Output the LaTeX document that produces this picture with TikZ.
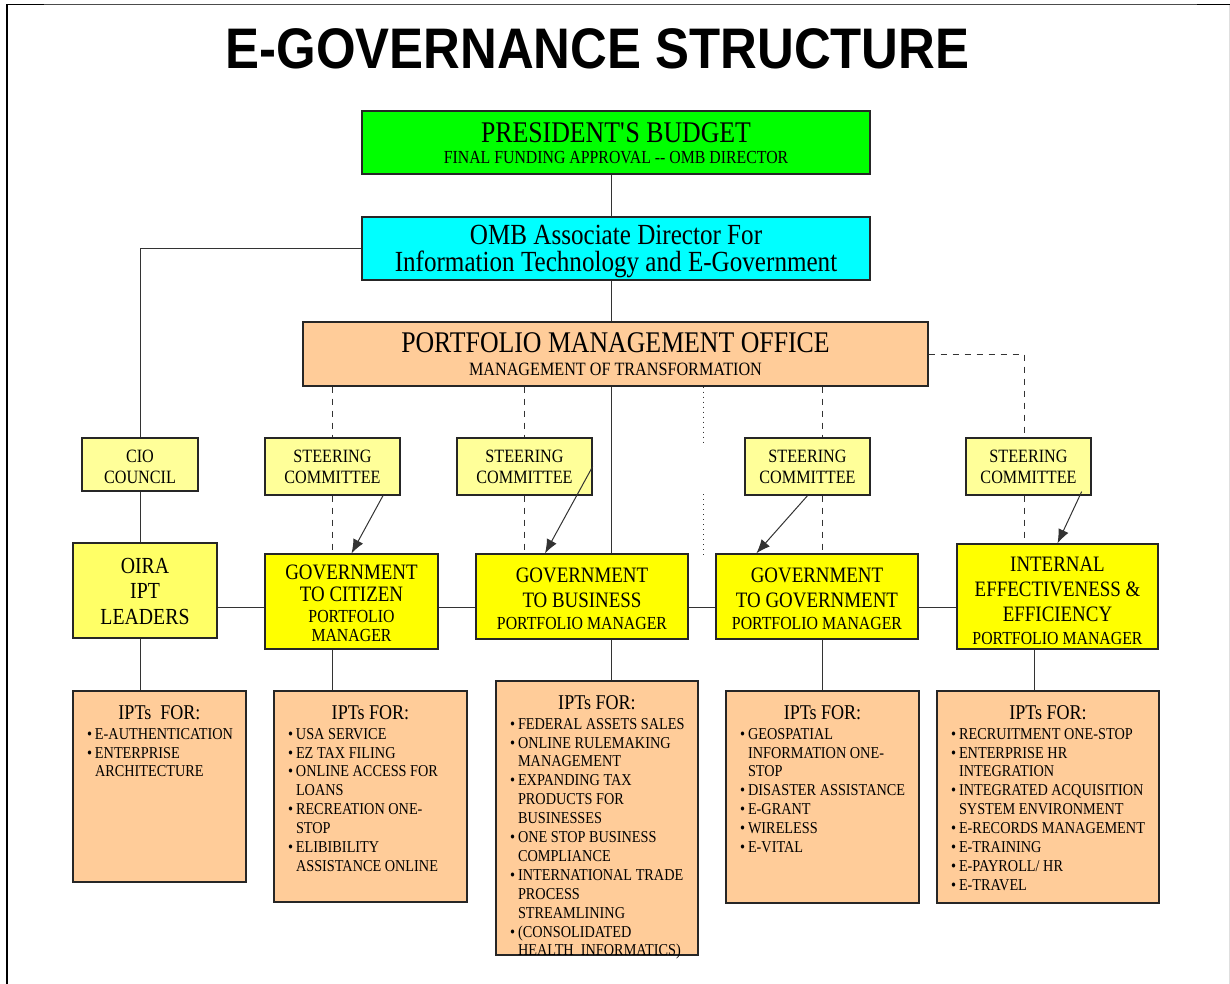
\documentclass[tikz,border=0pt]{standalone}
\usepackage{fontspec}
\setmainfont{Liberation Serif}[FakeStretch=0.86]
\newfontfamily\titlefont{Liberation Sans}[FakeStretch=0.89]
\usetikzlibrary{calc,arrows.meta}

\definecolor{budgetgreen}{HTML}{00FF00}
\definecolor{ombcyan}{HTML}{00FFFF}
\definecolor{peach}{HTML}{FFCC99}
\definecolor{paleyellow}{HTML}{FFFF99}
\definecolor{oirayellow}{HTML}{FFFF66}
\definecolor{pmyellow}{HTML}{FFFF00}

\newcommand{\fs}[2]{\fontsize{#1}{#2}\selectfont}
\newcommand{\itm}[1]{\par\hangindent=4pt\hangafter=1\noindent\makebox[4pt][l]{\textbullet}#1}
% width, height, header, items
\newcommand{\ipts}[4]{\parbox[c][#2][t]{#1}{{\centering\fs{10.5}{12}\rule{0pt}{14pt}#3\par}\vspace{0.6pt}\raggedright\leftskip=7pt\fs{8.3}{9.45}#4}}

\tikzset{
  box/.style={draw=black!85, line width=0.65pt, inner sep=0pt, align=center},
  tb/.style={text height=#1pt, text depth=0pt},
  steerbox/.style={box, fill=paleyellow, minimum height=28.5pt, font=\fs{9.4}{10.6}, tb=16.8},
  pmbox/.style={box, fill=pmyellow},
  iptbox/.style={box, fill=peach},
  link/.style={draw=black!80, line width=0.5pt},
  sclink/.style={link, dashed},
  dots/.style={link, dotted},
  steer/.style={link, -{Latex[length=7pt,width=5.5pt]}}
}

\begin{document}
\begin{tikzpicture}[x=0.5pt, y=-0.5pt]
\useasboundingbox (0,0) rectangle (1230,984);

% page frame
\draw[gray!25, line width=0.4pt] (1229,4.5) -- (1229,984);
\draw[black!70, line width=0.35pt] (7,4.5) -- (1230,4.5);
\draw[line width=0.75pt] (7,4.5) -- (44,4.5);
\draw[line width=0.75pt] (1197,4.5) -- (1230,4.5);
\draw[line width=0.85pt] (7,4.5) -- (7,984);

\node[anchor=base, inner sep=0pt, font=\titlefont\bfseries\fs{28.6}{30}] (title) at (597.5,69) {E-GOVERNANCE STRUCTURE};

% top of the chart
\node[box, fill=budgetgreen, minimum width=254pt, minimum height=31.5pt, font=\fs{15}{15}, tb=21.5] (pb) at (616,142.5)
  {PRESIDENT\textquotesingle S BUDGET\\[-4.5pt] \fs{9.2}{10.5}FINAL FUNDING APPROVAL -{}- OMB DIRECTOR};
\node[box, fill=ombcyan, minimum width=254pt, minimum height=31.5pt, font=\fs{14.6}{13.4}, tb=22.5] (omb) at (616,248.5)
  {OMB Associate Director For\\Information Technology and E-Government};
\node[box, fill=peach, minimum width=312.5pt, minimum height=32pt, font=\fs{15}{15}, tb=21] (pmo) at (615.5,354)
  {PORTFOLIO MANAGEMENT OFFICE\\[-3.5pt] \fs{9.4}{11.5}MANAGEMENT OF TRANSFORMATION};

% committees
\node[steerbox, minimum width=58pt, minimum height=26.5pt, tb=18.8] (cio) at (140,464.5) {CIO\\COUNCIL};
\node[steerbox, minimum width=67.5pt] (sc1) at (332.5,466.5) {STEERING\\COMMITTEE};
\node[steerbox, minimum width=67.5pt] (sc2) at (524.5,466.5) {STEERING\\COMMITTEE};
\node[steerbox, minimum width=62.5pt] (sc3) at (807.5,466.5) {STEERING\\COMMITTEE};
\node[steerbox, minimum width=62.5pt] (sc4) at (1028.5,466.5) {STEERING\\COMMITTEE};

% portfolio managers
\node[box, fill=oirayellow, minimum width=72pt, minimum height=47.5pt, font=\fs{11.5}{12.7}, tb=33.8] (oira) at (145,590.5) {OIRA\\IPT\\LEADERS};
\node[pmbox, minimum width=86.5pt, minimum height=47.5pt, font=\fs{11}{11.2}, tb=40.2] (g2c) at (351.5,601.5)
  {GOVERNMENT\\TO CITIZEN\\[-0.9pt] \fs{9.2}{10.3}PORTFOLIO\\[-1.5pt] \fs{9.2}{9.7}MANAGER};
\node[pmbox, minimum width=106pt, minimum height=42.5pt, font=\fs{11}{12.5}, tb=32.5] (g2b) at (582,596.5)
  {GOVERNMENT\\TO BUSINESS\\[-1.5pt] \fs{9.2}{11}PORTFOLIO MANAGER};
\node[pmbox, minimum width=101pt, minimum height=42.5pt, font=\fs{11}{12.5}, tb=32.5] (g2g) at (817,596.5)
  {GOVERNMENT\\TO GOVERNMENT\\[-1.5pt] \fs{9.2}{11}PORTFOLIO MANAGER};
\node[pmbox, minimum width=100.5pt, minimum height=52.5pt, font=\fs{11}{12.5}, tb=47.5] (iee) at (1057.5,596.5)
  {INTERNAL\\EFFECTIVENESS \&\\EFFICIENCY\\[-1.3pt] \fs{9.2}{11.2}PORTFOLIO MANAGER};

% IPT lists
\node[iptbox] (ipt1) at (159.5,786.5) {\ipts{86.5pt}{95.5pt}{IPTs\ \ FOR:}{%
  \itm{E-AUTHENTICATION}\itm{ENTERPRISE\newline ARCHITECTURE}}};
\node[iptbox] (ipt2) at (370.5,796.5) {\ipts{96.5pt}{105.5pt}{IPTs FOR:}{%
  \itm{USA SERVICE}\itm{EZ TAX FILING}\itm{ONLINE ACCESS FOR\newline LOANS}%
  \itm{RECREATION ONE-\newline STOP}\itm{ELIBIBILITY\newline ASSISTANCE ONLINE}}};
\node[iptbox] (ipt3) at (597,818) {\ipts{101pt}{137pt}{IPTs FOR:}{%
  \itm{FEDERAL ASSETS SALES}\itm{ONLINE RULEMAKING\newline MANAGEMENT}%
  \itm{EXPANDING TAX\newline PRODUCTS FOR\newline BUSINESSES}\itm{ONE STOP BUSINESS\newline COMPLIANCE}%
  \itm{INTERNATIONAL TRADE\newline PROCESS\newline STREAMLINING}\itm{(CONSOLIDATED\newline HEALTH\ \ INFORMATICS)}}};
\node[iptbox] (ipt4) at (822.5,797) {\ipts{96.5pt}{106pt}{IPTs FOR:}{%
  \itm{GEOSPATIAL\newline INFORMATION ONE-\newline STOP}\itm{DISASTER ASSISTANCE}%
  \itm{E-GRANT}\itm{WIRELESS}\itm{E-VITAL}}};
\node[iptbox] (ipt5) at (1048,797) {\ipts{111pt}{106pt}{IPTs FOR:}{%
  \itm{RECRUITMENT ONE-STOP}\itm{ENTERPRISE HR\newline INTEGRATION}%
  \itm{INTEGRATED ACQUISITION\newline SYSTEM ENVIRONMENT}\itm{E-RECORDS MANAGEMENT}%
  \itm{E-TRAINING}\itm{E-PAYROLL/ HR}\itm{E-TRAVEL}}};

% solid links
\coordinate (spine) at (611,0);
\coordinate (row) at (0,607);
\coordinate (c5) at (1034,0);
\draw[link] (pb.south -| spine) -- (omb.north -| spine);
\draw[link] (omb.south -| spine) -- (pmo.north -| spine);
\draw[link] (pmo.south -| spine) -- (g2b.north -| spine);
\draw[link] (g2b.south -| spine) -- (ipt3.north -| spine);
\draw[link] (omb.west) -| (cio.north);
\draw[link] (cio.south) -- (cio.south |- oira.north);
\draw[link] (cio.south |- oira.south) -- (cio.south |- ipt1.north);
\draw[link] (oira.east |- row) -- (g2c.west |- row);
\draw[link] (g2c.east |- row) -- (g2b.west |- row);
\draw[link] (g2b.east |- row) -- (g2g.west |- row);
\draw[link] (g2g.east |- row) -- (iee.west |- row);
\draw[link] (sc1.south |- g2c.south) -- (sc1.south |- ipt2.north);
\draw[link] (ipt4.north |- g2g.south) -- (ipt4.north);
\draw[link] (c5 |- iee.south) -- (c5 |- ipt5.north);

% dashed links through the committees
\coordinate (d3) at (822.5,0);
\coordinate (d4) at (1024,0);
\draw[sclink] (sc1.north |- pmo.south) -- (sc1.north);
\draw[sclink] (sc1.south) -- (sc1.south |- g2c.north);
\draw[sclink] (sc2.north |- pmo.south) -- (sc2.north);
\draw[sclink] (sc2.south) -- (sc2.south |- g2b.north);
\draw[sclink] (d3 |- pmo.south) -- (d3 |- sc3.north);
\draw[sclink] (d3 |- sc3.south) -- (d3 |- g2g.north);
\draw[sclink] (pmo.east) -| (d4 |- sc4.north);
\draw[sclink] (d4 |- sc4.south) -- (d4 |- iee.north);

% dotted line
\coordinate (e1) at (703,445);
\coordinate (e2) at (703,494);
\coordinate (e3) at (703,555);
\draw[dots] (e1 |- pmo.south) -- (e1);
\draw[dots] (e2) -- (e3);

% arrows
\draw[steer] ($(sc1.south)+(50.5,0)$) -- (g2c.north);
\draw[steer] (sc2.east) -- ($(g2b.north)+(-37,0)$);
\draw[steer] (sc3.south) -- ($(g2g.north west)+(41,0)$);
\draw[steer] ($(sc4.south east)+(-10,-4)$) -- (iee.north);
\end{tikzpicture}
\end{document}
